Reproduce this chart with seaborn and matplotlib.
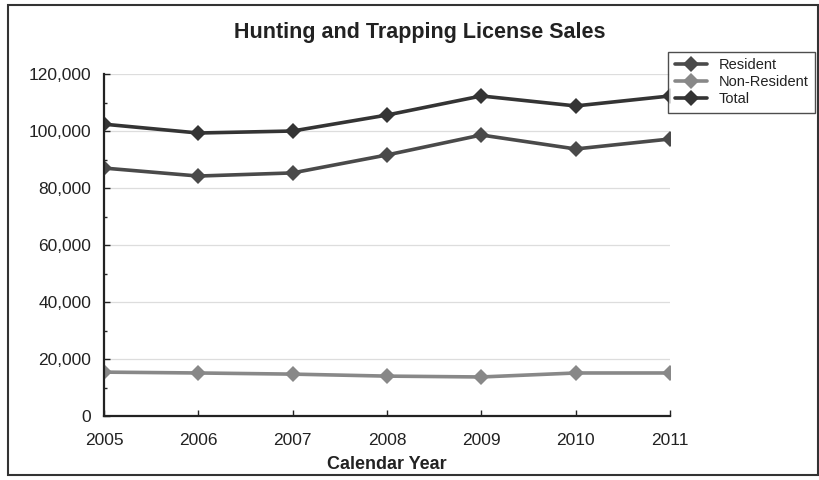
import matplotlib
matplotlib.use("Agg")
import matplotlib.pyplot as plt
import seaborn as sns
import pandas as pd
from matplotlib.ticker import FuncFormatter, MultipleLocator
from matplotlib.patches import Rectangle

years = [2005, 2006, 2007, 2008, 2009, 2010, 2011]
resident = [87000, 84200, 85300, 91600, 98600, 93700, 97200]
non_resident = [15400, 15100, 14700, 14000, 13700, 15100, 15100]
total = [102400, 99300, 100000, 105600, 112300, 108800, 112300]

series_names = ["Resident", "Non-Resident", "Total"]
colors = {"Resident": "#4a4a4a", "Non-Resident": "#888888", "Total": "#343434"}

df = pd.DataFrame({
    "Year": years * 3,
    "Value": resident + non_resident + total,
    "Series": [s for s in series_names for _ in years],
})

sns.set_style("white")
plt.rcParams['font.family'] = ['Liberation Sans', 'DejaVu Sans']

fig = plt.figure(figsize=(8.2, 4.8), dpi=100)
ax = fig.add_axes([0.1268, 0.1333, 0.817 - 0.1268, 0.8458 - 0.1333])

sns.lineplot(data=df, x="Year", y="Value", hue="Series", hue_order=series_names,
             palette=colors, style="Series", markers={"Resident": "D", "Non-Resident": "D", "Total": "D"},
             dashes=False, linewidth=2.6, markersize=8.5, markeredgewidth=0, ax=ax)

ax.set_xlim(2005, 2011)
ax.set_ylim(0, 120000)
ax.set_xticks(years)
ax.set_xticklabels([str(y) for y in years])
ax.yaxis.set_major_locator(MultipleLocator(20000))
ax.yaxis.set_minor_locator(MultipleLocator(10000))
ax.yaxis.set_major_formatter(FuncFormatter(lambda v, p: f"{int(v):,}"))
ax.tick_params(axis="both", which="major", direction="in", length=4, width=1, labelsize=12.5, colors="#222222")
ax.tick_params(axis="y", which="minor", direction="in", length=2, width=1, left=True)
ax.tick_params(axis="x", which="major", pad=12, bottom=True)
ax.tick_params(axis="y", which="major", pad=9, left=True)
for lbl in ax.get_xticklabels() + ax.get_yticklabels():
    lbl.set_color("#222222")

ax.grid(axis="y", color="#dddddd", linewidth=0.9)
ax.set_axisbelow(True)
for side in ["top", "right"]:
    ax.spines[side].set_visible(False)
for side in ["left", "bottom"]:
    ax.spines[side].set_color("#222222")
    ax.spines[side].set_linewidth(1.6)

ax.set_xlabel("Calendar Year", fontsize=13, fontweight="bold", color="#222222", labelpad=6)
ax.set_ylabel("")

fig.text(0.512, 0.933, "Hunting and Trapping License Sales", ha="center", va="center",
         fontsize=15.5, fontweight="bold", color="#222222")

handles, labels = ax.get_legend_handles_labels()
leg = ax.legend(handles, labels, loc="upper left", bbox_to_anchor=(0.8146, 0.892),
                bbox_transform=fig.transFigure, frameon=True, fancybox=False,
                edgecolor="#222222", fontsize=10.5, handlelength=2.2, handletextpad=0.8,
                labelspacing=0.2, borderpad=0.45, borderaxespad=0)
leg.get_frame().set_linewidth(1.0)
for t in leg.get_texts():
    t.set_color("#222222")

fig.patches.append(Rectangle((0.01, 0.01), 0.988, 0.98, transform=fig.transFigure,
                             fill=False, edgecolor="#333333", linewidth=1.5))

fig.savefig("out.png", dpi=100)
